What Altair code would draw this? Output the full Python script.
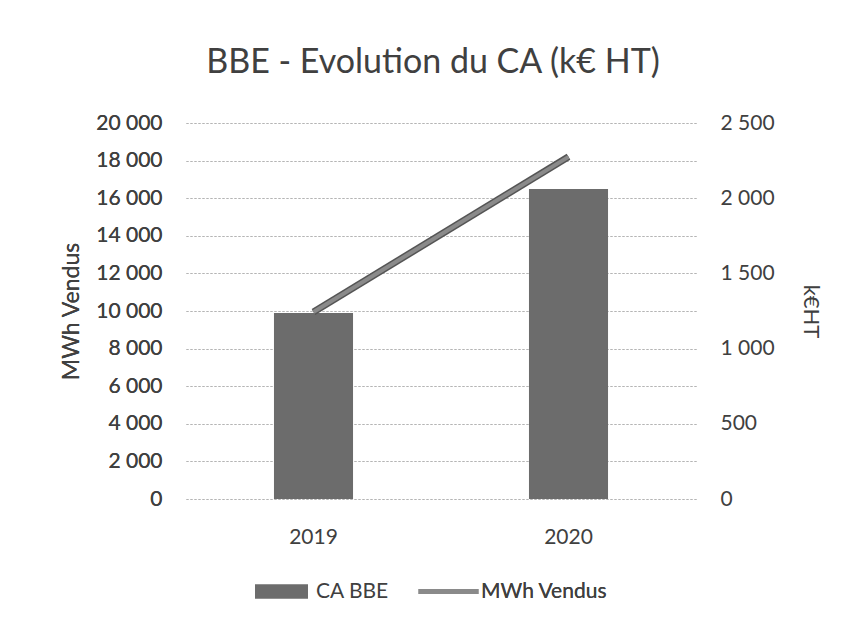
import altair as alt
import pandas as pd

years = ["2019", "2020"]
ca_bbe = [1237, 2062]          # k€ HT (right axis)
mwh_vendus = [9950, 18200]     # MWh (left axis)

df = pd.DataFrame({
    "year": years,
    "ca": ca_bbe,
    "mwh": mwh_vendus,
    "s_bar": ["CA BBE"] * 2,
    "s_line": ["MWh Vendus"] * 2,
})

FONT = "Lato"
TXT = "#404040"
fmt = "replace(format(datum.value, ','), ',', ' ')"

x = alt.X("year:N", title=None,
          scale=alt.Scale(paddingInner=0.69, paddingOuter=0.345),
          axis=alt.Axis(labelAngle=0, ticks=False, domain=False, labelPadding=27,
                        labelFontSize=21, labelColor=TXT, labelFont=FONT))

bars = alt.Chart(df).mark_bar(color="#6c6c6c").encode(
    x=x,
    y=alt.Y("ca:Q", title="k€HT",
            scale=alt.Scale(domain=[0, 2500], nice=False),
            axis=alt.Axis(orient="right", values=[0, 500, 1000, 1500, 2000, 2500],
                          labelExpr=fmt, grid=False, ticks=False, domain=False,
                          labelPadding=24, labelFontSize=21, labelColor=TXT, labelFont=FONT,
                          titleFontSize=22, titleFont=FONT, titleColor=TXT, titleFontWeight="normal",
                          titlePadding=24)),
    fill=alt.Fill("s_bar:N", title=None,
                  scale=alt.Scale(domain=["CA BBE"], range=["#6c6c6c"]),
                  legend=alt.Legend(orient="none", legendX=69, legendY=442, direction="horizontal",
                                    symbolType="M-1,-0.27H1V0.27H-1Z", symbolSize=2809,
                                    symbolStrokeWidth=0, labelFontSize=21, labelFont=FONT,
                                    labelColor=TXT, labelOffset=8)),
)

line_dark = alt.Chart(df).mark_line(color="#555555", strokeWidth=7).encode(
    x=x,
    y=alt.Y("mwh:Q", scale=alt.Scale(domain=[0, 20000], nice=False), axis=None),
)

line = alt.Chart(df).mark_line(strokeWidth=4).encode(
    x=x,
    y=alt.Y("mwh:Q", title="MWh Vendus",
            scale=alt.Scale(domain=[0, 20000], nice=False),
            axis=alt.Axis(orient="left", values=list(range(0, 20001, 2000)),
                          labelExpr=fmt, grid=True, gridDash=[2, 2], gridColor="#b5b5b5",
                          gridWidth=1, ticks=False, domain=False, labelPadding=24,
                          labelFontSize=21, labelColor=TXT, labelFont=FONT,
                          titleFontSize=23, titleFont=FONT, titleColor=TXT,
                          titleFontWeight="normal", titlePadding=12)),
    stroke=alt.Stroke("s_line:N", title=None,
                      scale=alt.Scale(domain=["MWh Vendus"], range=["#8a8a8a"]),
                      legend=alt.Legend(orient="none", legendX=230, legendY=436,
                                        symbolType="stroke", symbolSize=3600,
                                        symbolStrokeWidth=5, labelFontSize=21, labelFont=FONT,
                                        labelColor=TXT, labelOffset=0)),
)

chart = alt.layer(line, bars, line_dark, line).resolve_scale(
    y="independent", fill="independent", stroke="independent"
).properties(
    width=510, height=376,
    title=alt.TitleParams("BBE - Evolution du CA (k€ HT)", fontSize=34, font=FONT,
                          fontWeight="normal", color=TXT, anchor="middle", dx=-8, offset=32),
    autosize=alt.AutoSizeParams(type="none"),
    padding={"left": 178, "top": 115, "right": 145, "bottom": 121},
).configure_view(stroke=None)

chart.save("out.html", embed_options={"renderer": "svg", "actions": False})
